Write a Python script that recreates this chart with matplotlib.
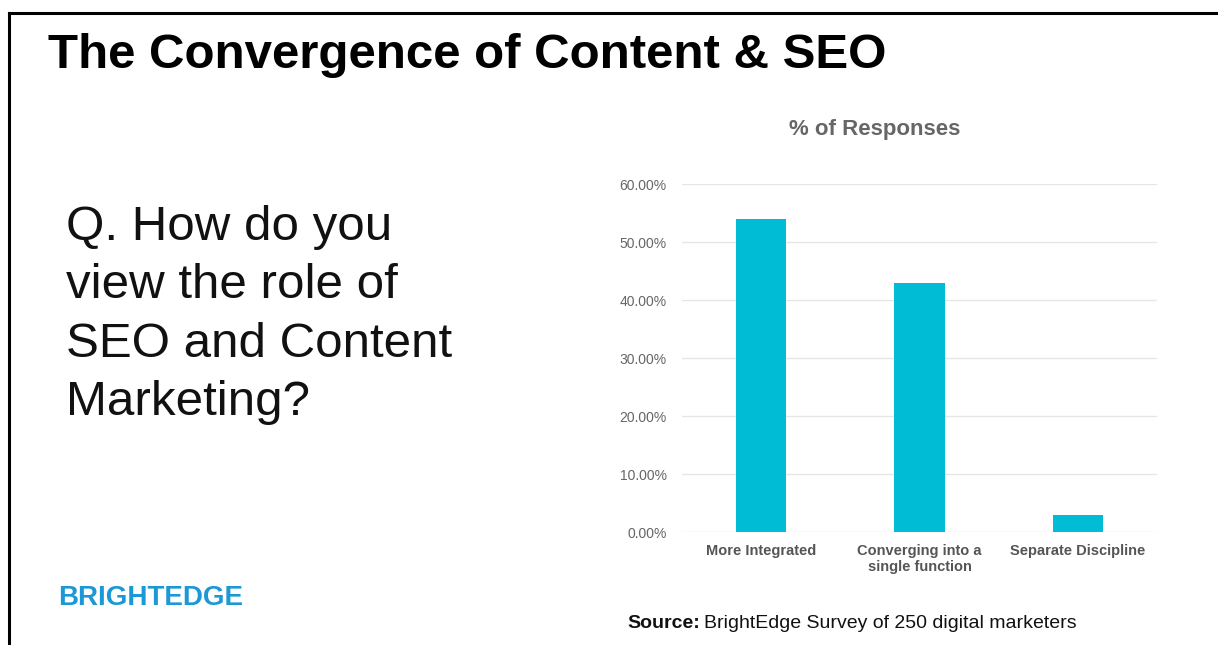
#!/usr/bin/env python3
"""Recreate the BrightEdge 'Convergence of Content & SEO' survey slide."""

import matplotlib

matplotlib.use("Agg")
import matplotlib.pyplot as plt
from matplotlib.lines import Line2D
from matplotlib.ticker import FuncFormatter

categories = ["More Integrated", "Converging into a\nsingle function", "Separate Discipline"]
responses = [54.0, 43.0, 3.0]
y_ticks = [0, 10, 20, 30, 40, 50, 60]

W, H = 1218, 645
plt.rcParams["font.family"] = ["Liberation Sans", "DejaVu Sans"]

fig = plt.figure(figsize=(W / 100, H / 100), dpi=100)
fig.patch.set_facecolor("white")

# slide frame: top and left edges only
fig.add_artist(Line2D([9 / W, 1], [1 - 12.5 / H, 1 - 12.5 / H], color="black", linewidth=2.2))
fig.add_artist(Line2D([9 / W, 9 / W], [0, 1 - 12.5 / H], color="black", linewidth=2.2))

fig.text(48 / W, 1 - 56 / H, "The Convergence of Content & SEO", fontsize=35.5, fontweight="bold",
         color="black", ha="left", va="center")

fig.text(66 / W, 1 - 315 / H, "Q. How do you\nview the role of\nSEO and Content\nMarketing?",
         fontsize=35.5, color="#111111", ha="left", va="center", linespacing=1.38)

fig.text(58 / W, 1 - 598 / H, "BRIGHTEDGE", fontsize=20, fontweight="bold", color="#1b98d5",
         ha="left", va="center", family=["Liberation Sans Narrow", "Liberation Sans", "DejaVu Sans"])

fig.text(627 / W, 1 - 623 / H, "Source:", fontsize=14, fontweight="bold", color="#111111",
         ha="left", va="center")
fig.text(704 / W, 1 - 623 / H, "BrightEdge Survey of 250 digital marketers", fontsize=14,
         color="#111111", ha="left", va="center")

fig.text(875 / W, 1 - 130 / H, "% of Responses", fontsize=16, fontweight="bold", color="#666666",
         ha="center", va="center")

ax = fig.add_axes([682 / W, 1 - 532 / H, (1157 - 682) / W, (532 - 184) / H])
x = range(len(categories))
ax.bar(x, responses, width=0.32, color="#00bcd4", zorder=3)
ax.set_ylim(0, 60)
ax.set_xlim(-0.5, len(categories) - 0.5)
ax.set_yticks(y_ticks)
ax.yaxis.set_major_formatter(FuncFormatter(lambda v, _: f"{v:.2f}%"))
ax.set_xticks(list(x))
ax.set_xticklabels(categories, fontsize=10.5, fontweight="bold", color="#555555", linespacing=1.15)
ax.tick_params(axis="y", labelsize=10, labelcolor="#666666", length=0, pad=11)
ax.tick_params(axis="x", length=0, pad=9)
ax.grid(axis="y", color="#e6e6e6", linewidth=1, zorder=0)
for side in ["top", "right", "left", "bottom"]:
    ax.spines[side].set_visible(False)

fig.savefig("out.png", dpi=100)
